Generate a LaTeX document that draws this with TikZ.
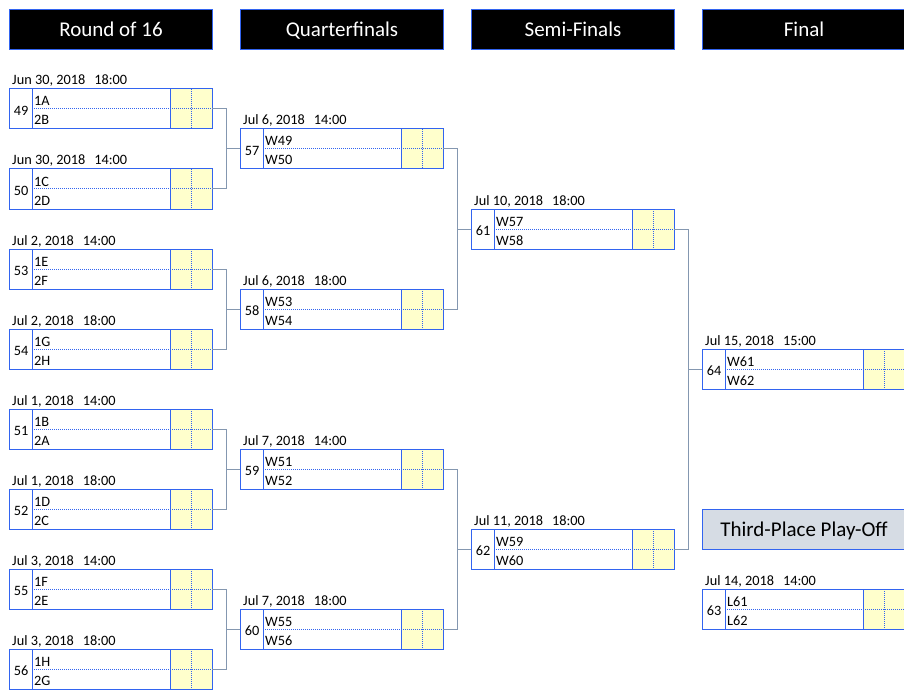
\documentclass[tikz,border=0pt]{standalone}
\usepackage{fontspec}
\setmainfont{Carlito}
\usepackage{tikz}

\definecolor{cellblue}{RGB}{50,100,240}
\definecolor{scoreyellow}{RGB}{255,255,204}
\definecolor{linkgray}{RGB}{132,151,176}
\definecolor{thirdgray}{RGB}{214,220,228}

\tikzset{
  headbox/.style={draw=cellblue, fill=black, text=white, line width=1pt,
    minimum width=203pt, minimum height=40pt, inner sep=0pt, anchor=north west,
    text height=17pt, text depth=3pt,
    font=\fontsize{21}{24}\selectfont},
  matchframe/.style={draw=cellblue, line width=1pt, minimum width=203pt,
    minimum height=40pt, inner sep=0pt, outer sep=0pt, anchor=north west},
  celldot/.style={draw=cellblue, line width=1pt, densely dotted},
  cellline/.style={draw=cellblue, line width=1pt},
  smalltext/.style={inner sep=0pt, font=\fontsize{14.3}{17}\selectfont},
  link/.style={draw=linkgray, line width=1pt}
}

% one match: number, left x, top y, date, time, first team, second team
\newcommand{\matchbox}[7]{%
  \fill[scoreyellow] (#2+161,#3) rectangle (#2+203,#3+40);
  \draw[celldot] (#2+23,#3+20) -- (#2+203,#3+20);
  \draw[celldot] (#2+182,#3) -- (#2+182,#3+40);
  \draw[cellline] (#2+23,#3) -- (#2+23,#3+40);
  \draw[cellline] (#2+161,#3) -- (#2+161,#3+40);
  \node[matchframe] (m#1) at (#2,#3) {};
  \node[smalltext] (n#1) at (#2+12,#3+21.5) {#1};
  \node[smalltext, anchor=base west] (a#1) at (#2+25,#3+17) {#6};
  \node[smalltext, anchor=base west] (b#1) at (#2+25,#3+36) {#7};
  \node[smalltext, anchor=base west] (d#1) at (#2+3,#3-4) {#4\hspace{9pt}#5};
}

\begin{document}
\begin{tikzpicture}[x=1pt, y=-1pt]
  \useasboundingbox (0,0) rectangle (904,695);

  \node[headbox] (h16) at (9,9) {Round of 16};
  \node[headbox] (hqf) at (240,9) {Quarterfinals};
  \node[headbox] (hsf) at (471,9) {Semi-Finals};
  \node[headbox] (hfin) at (702,9) {Final};
  \node[headbox, fill=thirdgray, text=black] (hthird) at (702,509) {Third-Place Play-Off};

  \foreach \n/\y/\d/\t/\a/\b in {49/89/{Jun 30, 2018}/18:00/1A/2B,
      50/169/{Jun 30, 2018}/14:00/1C/2D, 53/249/{Jul 2, 2018}/14:00/1E/2F,
      54/329/{Jul 2, 2018}/18:00/1G/2H, 51/409/{Jul 1, 2018}/14:00/1B/2A,
      52/489/{Jul 1, 2018}/18:00/1D/2C, 55/569/{Jul 3, 2018}/14:00/1F/2E,
      56/649/{Jul 3, 2018}/18:00/1H/2G}
    \matchbox{\n}{9}{\y}{\d}{\t}{\a}{\b};

  \foreach \n/\y/\d/\t/\a/\b in {57/129/{Jul 6, 2018}/14:00/W49/W50,
      58/289/{Jul 6, 2018}/18:00/W53/W54, 59/449/{Jul 7, 2018}/14:00/W51/W52,
      60/609/{Jul 7, 2018}/18:00/W55/W56}
    \matchbox{\n}{240}{\y}{\d}{\t}{\a}{\b};

  \matchbox{61}{471}{209}{Jul 10, 2018}{18:00}{W57}{W58}
  \matchbox{62}{471}{529}{Jul 11, 2018}{18:00}{W59}{W60}
  \matchbox{64}{702}{349}{Jul 15, 2018}{15:00}{W61}{W62}
  \matchbox{63}{702}{589}{Jul 14, 2018}{14:00}{L61}{L62}

  % winners move on
  \foreach \p/\q/\w in {49/50/57, 53/54/58, 51/52/59, 55/56/60, 57/58/61, 59/60/62, 61/62/64} {
    \draw[link] (m\p.east) -- ++(14,0) |- (m\w.west);
    \draw[link] (m\q.east) -- ++(14,0) |- (m\w.west);
  }
\end{tikzpicture}
\end{document}
